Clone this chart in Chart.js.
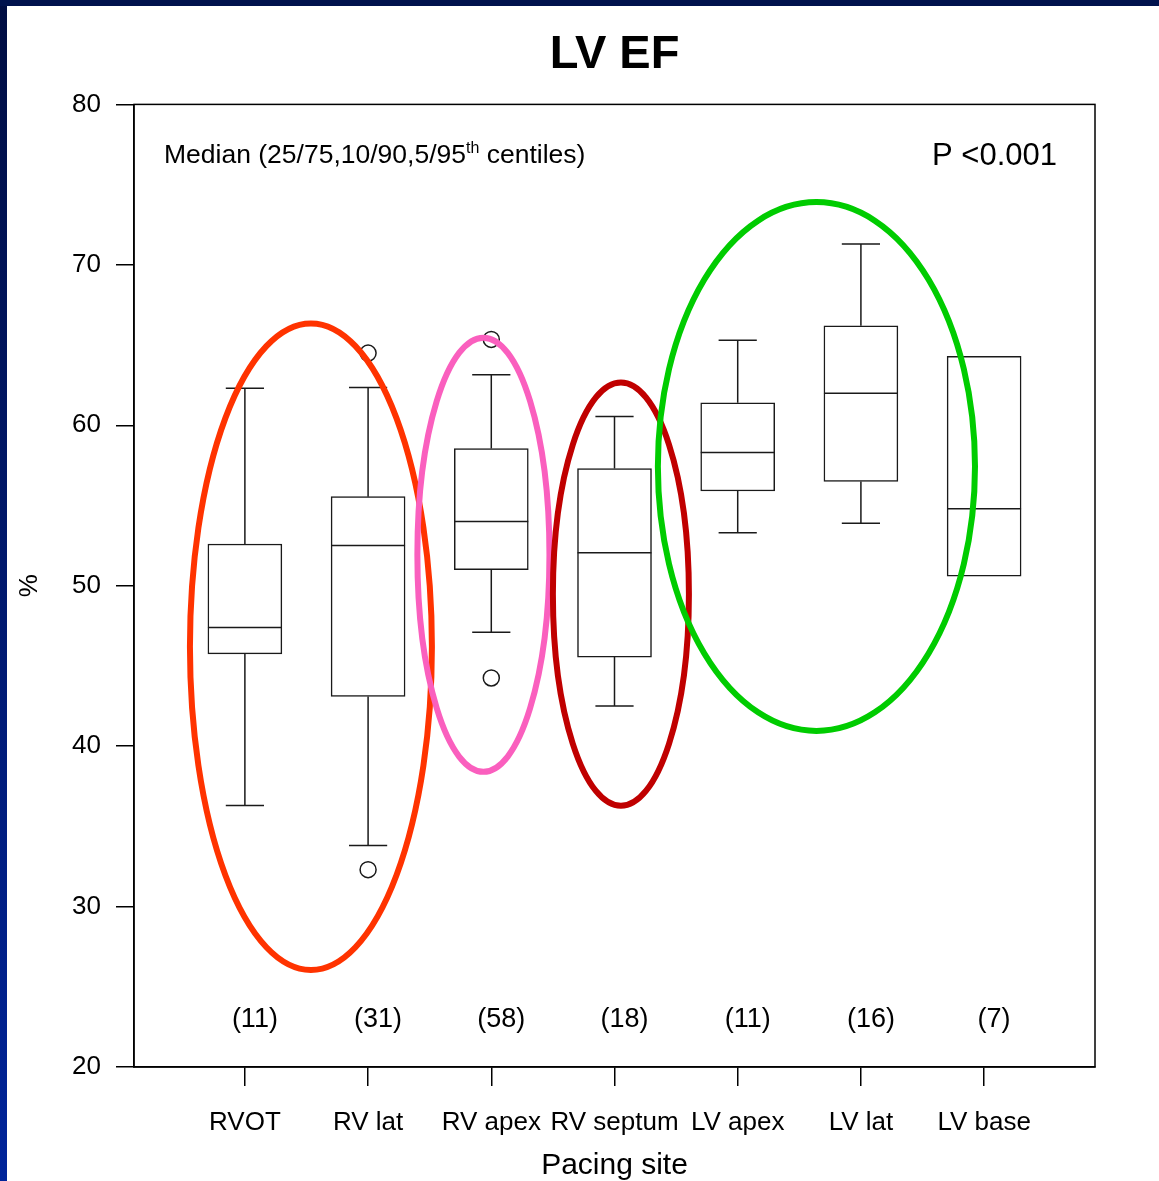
<!DOCTYPE html>
<html>
<head>
<meta charset="utf-8">
<script src="https://cdn.jsdelivr.net/npm/chart.js@4.4.1/dist/chart.umd.min.js"></script>
<style>
html,body{margin:0;padding:0;background:#fff;overflow:hidden;}
#wrap{position:relative;width:1159px;height:1181px;}
</style>
</head>
<body>
<div id="wrap"><canvas id="c"></canvas></div>
<script>
// ---- data ----
const categories = ['RVOT', 'RV lat', 'RV apex', 'RV septum', 'LV apex', 'LV lat', 'LV base'];
const counts = ['(11)', '(31)', '(58)', '(18)', '(11)', '(16)', '(7)'];
const p10 = [36.3, 33.8, 47.1, 42.5, 53.3, 53.9, null];
const q1 = [45.75, 43.1, 51.0, 45.55, 55.9, 56.5, 50.6];
const medians = [47.4, 52.5, 54.0, 52.05, 58.3, 62.0, 54.8];
const q3 = [52.6, 55.55, 58.55, 57.3, 61.4, 66.2, 64.3];
const p90 = [62.3, 62.35, 63.15, 60.55, 65.3, 71.3, null];
const outlierCat = [1, 1, 2, 2];
const outlierVal = [64.5, 32.3, 65.35, 44.25];
const yTicks = [20, 30, 40, 50, 60, 70, 80];
// highlight ellipses (data units: category index / %)
const ellipseCx = [0.536, 1.936, 3.052, 4.639];
const ellipseCy = [46.2, 51.93, 49.47, 57.43];
const ellipseRx = [0.982, 0.536, 0.552, 1.287];
const ellipseRy = [20.15, 13.53, 13.19, 16.48];
const ellipseColors = ['#ff3300', '#fa5fbe', '#c00000', '#00cc00'];
const countLevel = 22.95;

const FONT = '"Liberation Sans", Arial, Helvetica, sans-serif';
const LINE = '#1a1a1a';

const boxData = categories.map((c, i) => ({x: i, y: [q1[i], q3[i]]}));
const outlierData = outlierCat.map((c, i) => ({x: c, y: outlierVal[i]}));

const decor = {
  id: 'decor',
  beforeDraw(chart) {
    const ctx = chart.ctx, W = chart.width, H = chart.height;
    ctx.save();
    ctx.fillStyle = '#fff';
    ctx.fillRect(0, 0, W, H);
    const g = ctx.createLinearGradient(0, 0, 0, H);
    g.addColorStop(0, '#000d42');
    g.addColorStop(1, '#00249a');
    ctx.fillStyle = g;
    ctx.fillRect(0, 0, 7, H);
    ctx.fillStyle = '#00124d';
    ctx.fillRect(0, 0, W, 6);
    ctx.restore();
  },
  afterDatasetsDraw(chart) {
    const ctx = chart.ctx, xs = chart.scales.x, ys = chart.scales.y, a = chart.chartArea;
    ctx.save();
    ctx.strokeStyle = LINE;
    ctx.lineWidth = 1.5;
    const half = 0.3, cap = 0.155;
    categories.forEach((c, i) => {
      const xl = xs.getPixelForValue(i - half), xr = xs.getPixelForValue(i + half);
      const xc = xs.getPixelForValue(i);
      const cl = xs.getPixelForValue(i - cap), cr = xs.getPixelForValue(i + cap);
      ctx.beginPath();
      const ym = ys.getPixelForValue(medians[i]);
      ctx.moveTo(xl, ym); ctx.lineTo(xr, ym);
      if (p90[i] != null) {
        const yt = ys.getPixelForValue(p90[i]), yq = ys.getPixelForValue(q3[i]);
        ctx.moveTo(xc, yq); ctx.lineTo(xc, yt);
        ctx.moveTo(cl, yt); ctx.lineTo(cr, yt);
      }
      if (p10[i] != null) {
        const yb = ys.getPixelForValue(p10[i]), yq = ys.getPixelForValue(q1[i]);
        ctx.moveTo(xc, yq); ctx.lineTo(xc, yb);
        ctx.moveTo(cl, yb); ctx.lineTo(cr, yb);
      }
      ctx.stroke();
    });
    // ellipses
    ellipseCx.forEach((cx, i) => {
      const px = xs.getPixelForValue(cx), py = ys.getPixelForValue(ellipseCy[i]);
      const rx = Math.abs(xs.getPixelForValue(cx + ellipseRx[i]) - px);
      const ry = Math.abs(ys.getPixelForValue(ellipseCy[i] + ellipseRy[i]) - py);
      ctx.beginPath();
      ctx.ellipse(px, py, rx, ry, 0, 0, Math.PI * 2);
      ctx.strokeStyle = ellipseColors[i];
      ctx.lineWidth = 6;
      ctx.stroke();
    });
    // frame
    ctx.strokeStyle = '#000';
    ctx.lineWidth = 1.5;
    ctx.strokeRect(a.left, a.top, a.right - a.left, a.bottom - a.top);
    // counts
    ctx.fillStyle = '#000';
    ctx.font = `27px ${FONT}`;
    ctx.textAlign = 'center';
    ctx.textBaseline = 'middle';
    const yc = ys.getPixelForValue(countLevel);
    counts.forEach((t, i) => {
      ctx.fillText(t, xs.getPixelForValue(i) + 10, yc);
    });
    // annotations
    ctx.textAlign = 'left';
    ctx.textBaseline = 'alphabetic';
    let x = a.left + 30;
    const base = a.top + 59;
    ctx.font = `26.5px ${FONT}`;
    const s1 = 'Median (25/75,10/90,5/95';
    ctx.fillText(s1, x, base);
    x += ctx.measureText(s1).width;
    ctx.font = `16px ${FONT}`;
    ctx.fillText('th', x, base - 10);
    x += ctx.measureText('th').width;
    ctx.font = `26.5px ${FONT}`;
    ctx.fillText(' centiles)', x, base);
    ctx.font = `31px ${FONT}`;
    ctx.textAlign = 'right';
    ctx.fillText('P <0.001', a.right - 38, base + 2);
    ctx.restore();
  }
};

new Chart(document.getElementById('c'), {
  type: 'bar',
  data: {
    datasets: [
      {
        type: 'scatter',
        label: 'outliers',
        data: outlierData,
        pointStyle: 'circle',
        pointRadius: 8,
        pointBorderWidth: 1.5,
        pointBorderColor: LINE,
        pointBackgroundColor: 'rgba(255,255,255,0)',
        order: 0
      },
      {
        type: 'bar',
        label: 'IQR',
        data: boxData,
        backgroundColor: '#fff',
        borderColor: LINE,
        borderWidth: 1.5,
        borderSkipped: false,
        barThickness: 74,
        order: 1
      }
    ]
  },
  plugins: [decor],
  options: {
    responsive: true,
    maintainAspectRatio: false,
    animation: false,
    events: [],
    layout: {padding: {left: 0, right: 64, top: 0, bottom: 0}},
    plugins: {
      legend: {display: false},
      tooltip: {enabled: false},
      title: {
        display: true,
        text: 'LV EF',
        fullSize: false,
        color: '#000',
        font: {family: FONT, size: 47, weight: 'bold'},
        padding: {top: 27, bottom: 21}
      }
    },
    scales: {
      x: {
        type: 'linear',
        min: -0.9,
        max: 6.9,
        offset: false,
        afterBuildTicks: axis => { axis.ticks = categories.map((c, i) => ({value: i})); },
        afterFit: scale => { scale.height = 114; },
        ticks: {
          callback: v => categories[v],
          color: '#000',
          font: {family: FONT, size: 26},
          padding: 21,
          maxRotation: 0,
          autoSkip: false
        },
        grid: {offset: false, drawOnChartArea: false, drawTicks: true, tickLength: 19, color: '#000', lineWidth: 1.5},
        border: {display: true, color: '#000', width: 1.5},
        title: {display: true, text: 'Pacing site', color: '#000', font: {family: FONT, size: 30}, padding: {top: 0, bottom: -3}}
      },
      y: {
        type: 'linear',
        min: 20,
        max: 80,
        afterBuildTicks: axis => { axis.ticks = yTicks.map(v => ({value: v})); },
        afterFit: scale => { scale.width = 134; },
        ticks: {
          color: '#000',
          font: {family: FONT, size: 26},
          padding: 15
        },
        grid: {drawOnChartArea: false, drawTicks: true, tickLength: 18, color: '#000', lineWidth: 1.5},
        border: {display: true, color: '#000', width: 1.5},
        title: {display: true, text: '%', color: '#000', font: {family: FONT, size: 26}, padding: {top: 14, bottom: 14}}
      }
    }
  }
});
</script>
</body>
</html>
